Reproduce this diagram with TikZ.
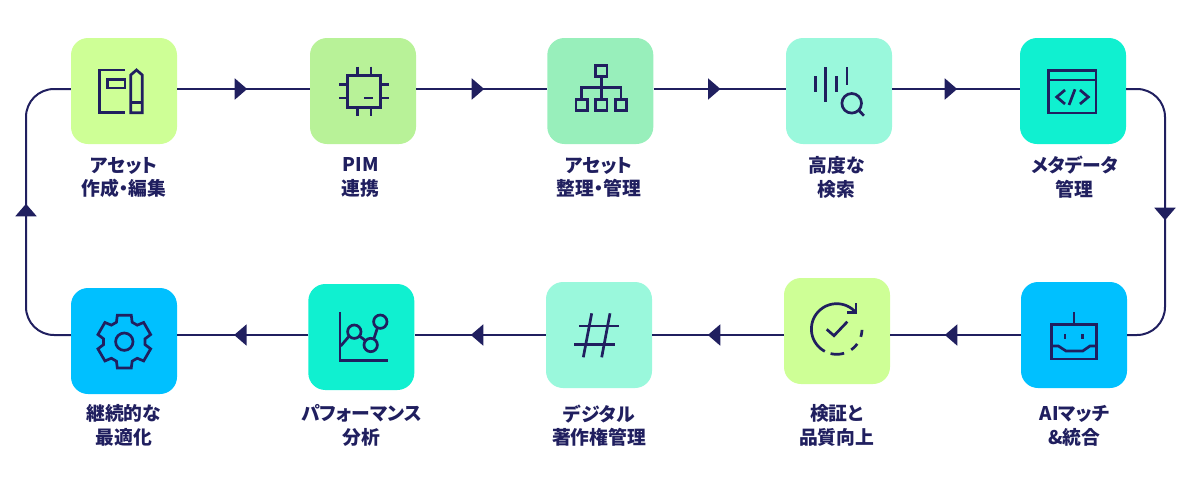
\documentclass[tikz,border=0pt]{standalone}
\usepackage{fontspec}
\newfontfamily\jp[RawFeature={+palt}]{Noto Sans CJK JP}
\usetikzlibrary{arrows.meta,decorations.markings}
\definecolor{navy}{HTML}{201F5F}
\definecolor{cLime}{HTML}{CEFF96}
\definecolor{cGreen}{HTML}{B8F298}
\definecolor{cMint}{HTML}{98EFBB}
\definecolor{cAqua}{HTML}{9AF8DC}
\definecolor{cTeal}{HTML}{10F0D0}
\definecolor{cBlue}{HTML}{00C0FF}
\tikzset{
  tile/.style={rectangle,minimum size=106pt,rounded corners=17pt,inner sep=0pt,draw=none,fill=#1},
  lab/.style={inner sep=0pt,align=center,text=navy,font=\jp\bfseries\fontsize{18.8}{23.7}\selectfont},
  flow/.style={draw=navy,line width=2pt},
  flowmark/.style={postaction={decorate,decoration={markings,mark=at position #1 with {\arrow{Triangle[length=12.5pt,width=21pt]}}}}},
  ico/.style={draw=navy,line width=2.7pt,line cap=butt,line join=miter,fill=none}
}
% ring arcs of the check icon, gear points
\newcommand{\ringarc}[2]{plot[domain=#1:#2,samples=40,smooth] ({836.7+25.3*cos(\x)},{329-25.3*sin(\x)})}
\newcommand{\gearpt}[2]{({124.3+#2*cos(#1)},{341.7-#2*sin(#1)})}
\begin{document}
\begin{tikzpicture}[x=1pt,y=-1pt]
\useasboundingbox (0,0) rectangle (1200,496);
\coordinate (rowtop) at (0,89);
\coordinate (rowbot) at (0,335);
\coordinate (leftbend) at (26,212);
\coordinate (rightbend) at (1165,212);
% tiles
\node[tile=cLime]  (n1) at (124,91) {};
\node[tile=cGreen] (n2) at (363,91) {};
\node[tile=cMint]  (n3) at (600.3,91) {};
\node[tile=cAqua]  (n4) at (839,91) {};
\node[tile=cTeal]  (n5) at (1073,91) {};
\node[tile=cBlue]  (n6) at (1074,335) {};
\node[tile=cLime]  (n7) at (837,331) {};
\node[tile=cAqua]  (n8) at (599,335) {};
\node[tile=cTeal]  (n9) at (361.3,337) {};
\node[tile=cBlue]  (n10) at (124,341) {};
% labels
\node[lab] (t1) at (124,177.5) {アセット\\作成・編集};
\node[lab] (t2) at (360.5,177.5) {PIM\\連携};
\node[lab] (t3) at (599,177.5) {アセット\\整理・管理};
\node[lab] (t4) at (836.7,177.5) {高度な\\検索};
\node[lab] (t5) at (1074.7,177.5) {メタデータ\\管理};
\node[lab] (t6) at (1074.5,425.7) {AIマッチ\\\&統合};
\node[lab] (t7) at (836.7,425.7) {検証と\\品質向上};
\node[lab] (t8) at (599,425.7) {デジタル\\著作権管理};
\node[lab] (t9) at (361.7,425.7) {パフォーマンス\\分析};
\node[lab] (t10) at (123.7,425.7) {継続的な\\最適化};
% connectors
\path[flow,flowmark=70pt] (n1.east |- rowtop) -- (n2.west |- rowtop);
\path[flow,flowmark=68pt] (n2.east |- rowtop) -- (n3.west |- rowtop);
\path[flow,flowmark=67pt] (n3.east |- rowtop) -- (n4.west |- rowtop);
\path[flow,flowmark=65pt] (n4.east |- rowtop) -- (n5.west |- rowtop);
\path[flow,flowmark=158pt,rounded corners=28pt] (n5.east |- rowtop) -| (rightbend) |- (n6.east |- rowbot);
\path[flow,flowmark=76pt] (n6.west |- rowbot) -- (n7.east |- rowbot);
\path[flow,flowmark=76pt] (n7.west |- rowbot) -- (n8.east |- rowbot);
\path[flow,flowmark=75pt] (n8.west |- rowbot) -- (n9.east |- rowbot);
\path[flow,flowmark=74pt] (n9.west |- rowbot) -- (n10.east |- rowbot);
\path[flow,flowmark=164pt,rounded corners=28pt] (n10.west |- rowbot) -| (leftbend) |- (n1.west |- rowtop);
% icon 1
\draw[ico] (125,70) -- (99.3,70) -- (99.3,112.7) -- (125,112.7);
\draw[ico] (107.7,79.3) rectangle (125,88);
\draw[ico] (130.7,112.7) -- (130.7,75) -- (136.5,70) -- (142.3,75) -- (142.3,112.7) -- cycle;
\draw[ico] (130.7,102.3) -- (142.3,102.3);
% icon 2
\draw[ico] (347.7,75.7) rectangle (380.7,107.3);
\draw[ico] (357.3,66.7) -- (357.3,75.7) (371,66.7) -- (371,75.7) (357.3,107.3) -- (357.3,116) (371,107.3) -- (371,116);
\draw[ico] (339.3,84.3) -- (347.7,84.3) (339.3,98) -- (347.7,98) (380.7,84.3) -- (389,84.3) (380.7,98) -- (389,98);
\draw[ico] (364.3,98) -- (372.7,98);
% icon 3
\draw[ico] (595.7,65.3) rectangle (607,76.7);
\draw[ico] (576,99.3) rectangle (587.3,110.7);
\draw[ico] (595.7,99.3) rectangle (607,110.7);
\draw[ico] (615.3,99.3) rectangle (626.7,110.7);
\draw[ico] (601.3,76.7) -- (601.3,99.3);
\draw[ico] (581.7,99.3) -- (581.7,87.7) -- (621,87.7) -- (621,99.3);
% icon 4
\draw[ico] (815.7,76) -- (815.7,92) (825.7,67.3) -- (825.7,101.7) (836.7,76) -- (836.7,92) (847,67.3) -- (847,85);
\draw[ico] (851.7,103.3) circle (9.8);
\draw[ico] (858.8,110.4) -- (864,115.7);
% icon 5
\draw[ico] (1048.7,70.7) rectangle (1096,113);
\draw[ico] (1048.7,80) -- (1096,80);
\draw[ico] (1065,90) -- (1056.7,97) -- (1065,104);
\draw[ico] (1080,90) -- (1088.3,97) -- (1080,104);
\draw[ico] (1075,89.3) -- (1069,105);
% icon 6
\draw[ico] (1051.7,324.7) rectangle (1096.7,359);
\draw[ico] (1074,312.3) -- (1074,324.7);
\draw[ico] (1065,334.3) -- (1065,339.3) (1082.7,334.3) -- (1082.7,339.3);
\draw[ico] (1051.7,346) -- (1058.3,346) -- (1066,351) -- (1082.7,351) -- (1090,346) -- (1096.7,346);
% icon 7
\draw[ico] \ringarc{43}{242};
\draw[ico] \ringarc{256}{287};
\draw[ico] \ringarc{305}{324};
\draw[ico] \ringarc{342}{358};
\draw[ico] (856,303.3) -- (856,312.7) -- (846.7,312.7);
\draw[ico] (826.7,329.3) -- (834,335.7) -- (847.3,321.7);
% icon 8
\draw[ico] (591.7,313.3) -- (583.3,357.3) (610,313.3) -- (601.7,357.3);
\draw[ico] (579,326) -- (619,326) (574.3,344.3) -- (615,344.3);
% icon 9
\draw[ico] (340,312.3) -- (340,360.7) -- (387.7,360.7);
\draw[ico] (354.3,331.7) circle (6.7);
\draw[ico] (370.7,345) circle (6.7);
\draw[ico] (380.3,321.7) circle (6.7);
\draw[ico] (340.7,346) -- (349.3,336) (359.3,336) -- (365.7,340.7) (374,338.3) -- (377.3,328.3);
% icon 10
\draw[ico] (124.3,341.7) circle (8.7);
\draw[ico] \gearpt{112}{21}
  \foreach \a in {90,30,-30,-90,-150,-210} {
    -- \gearpt{\a+22}{21} -- \gearpt{\a+14.8}{27.3} -- \gearpt{\a-14.8}{27.3} -- \gearpt{\a-22}{21}
  } -- cycle;
\end{tikzpicture}
\end{document}
